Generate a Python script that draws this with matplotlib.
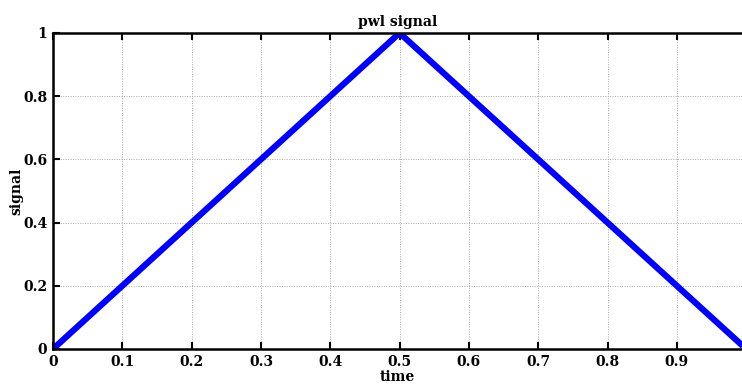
import matplotlib
matplotlib.use('Agg')
import matplotlib.pyplot as plt

# pwl breakpoints
time_pts = [0.0, 0.5, 1.0]
signal_pts = [0.0, 1.0, 0.0]
xticks = [0, 0.1, 0.2, 0.3, 0.4, 0.5, 0.6, 0.7, 0.8, 0.9]
xticklabels = ['0', '0.1', '0.2', '0.3', '0.4', '0.5', '0.6', '0.7', '0.8', '0.9']
yticks = [0, 0.2, 0.4, 0.6, 0.8, 1]
yticklabels = ['0', '0.2', '0.4', '0.6', '0.8', '1']

plt.rcParams['font.family'] = ['DejaVu Serif']
plt.rcParams['font.weight'] = 'bold'

fig = plt.figure(figsize=(7.42, 3.85), dpi=100)
ax = fig.add_axes([53 / 742, 1 - 349 / 385, 1 - 53 / 742, (349 - 33) / 385])

ax.plot(time_pts, signal_pts, color='#0000ff', linewidth=4.5, solid_capstyle='butt')

ax.set_xlim(0, 0.994)
ax.set_ylim(0, 1)
ax.set_xticks(xticks)
ax.set_xticklabels(xticklabels)
ax.set_yticks(yticks)
ax.set_yticklabels(yticklabels)
ax.tick_params(direction='in', top=True, right=False, length=5, width=1.5,
               labelsize=10, pad=4)
for lab in ax.get_xticklabels() + ax.get_yticklabels():
    lab.set_fontweight('bold')
for s in ax.spines.values():
    s.set_linewidth(1.8)
ax.spines['right'].set_visible(False)
ax.grid(True, linestyle=(0, (1, 1.5)), color='#aaaaaa', linewidth=0.7)

ax.set_title('pwl signal', fontsize=10, fontweight='bold', pad=5)
ax.set_xlabel('time', fontsize=10, fontweight='bold', labelpad=1)
ax.set_ylabel('signal', fontsize=10, fontweight='bold', labelpad=0)

fig.savefig('out.png', dpi=100)
